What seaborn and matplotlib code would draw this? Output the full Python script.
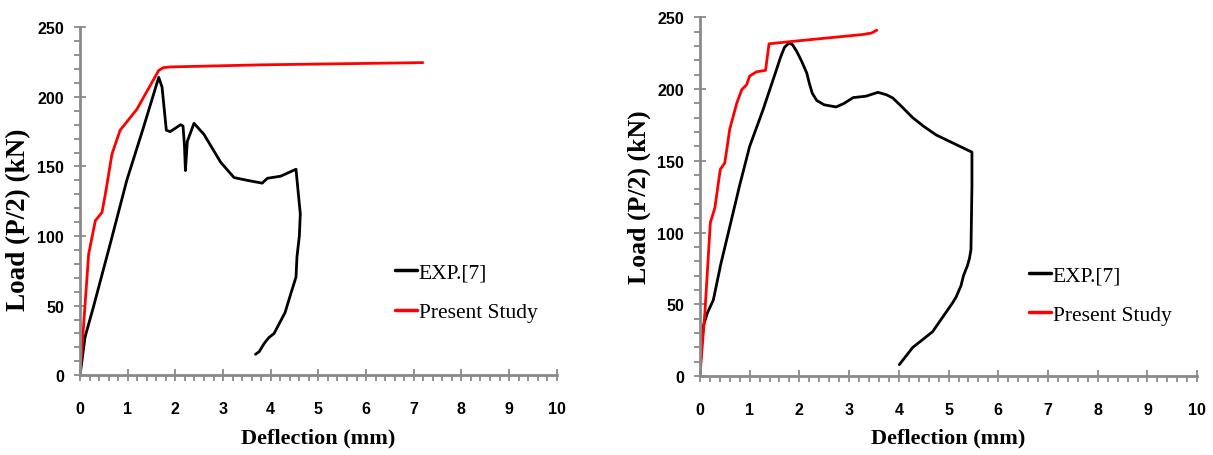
import numpy as np
import pandas as pd
import matplotlib
matplotlib.use("Agg")
import matplotlib.pyplot as plt
import seaborn as sns
from matplotlib.ticker import MultipleLocator

# ---- data: left panel ----
left_exp_x = [0, 0.105, 0.28, 0.63, 0.98, 1.33, 1.65, 1.72, 1.81, 1.89, 2.11, 2.16, 2.19, 2.21,
              2.25, 2.39, 2.6, 2.95, 3.23, 3.51, 3.82, 3.93, 4.21, 4.53, 4.58, 4.62, 4.6, 4.55,
              4.53, 4.42, 4.3, 4.07, 3.96, 3.86, 3.76, 3.68]
left_exp_y = [0, 27.5, 49, 94, 140, 178, 214, 207, 176, 175, 180, 179, 165, 147,
              168, 181, 173, 153, 142, 140, 138, 141.5, 143, 148, 130, 116, 100, 85,
              70.5, 58.5, 45, 30, 27, 22.7, 17, 15]
left_fem_x = [0, 0.18, 0.32, 0.46, 0.53, 0.67, 0.84, 1.19, 1.65, 1.75, 1.89, 3.79, 7.19]
left_fem_y = [0, 87, 111, 117, 130, 159, 176, 191, 219, 221, 221.5, 223, 224.6]

# ---- data: right panel ----
right_exp_x = [0, 0.03, 0.07, 0.15, 0.27, 0.42, 0.6, 0.8, 1.0, 1.27, 1.54, 1.62, 1.7, 1.79,
               1.86, 1.95, 2.05, 2.15, 2.2, 2.26, 2.35, 2.5, 2.74, 2.9, 3.08, 3.34, 3.58,
               3.75, 3.88, 4.05, 4.28, 4.5, 4.75, 5.05, 5.35, 5.47, 5.47, 5.45, 5.42, 5.38,
               5.3, 5.25, 5.15, 5.08, 4.9, 4.68, 4.5, 4.28, 4.1, 4.01]
right_exp_y = [0, 20, 35, 44, 53, 78, 104, 133, 160, 185.6, 213.5, 222, 229, 232,
               231, 226, 219, 211, 204, 197, 192, 189, 187.5, 190, 194, 195, 197.7,
               196, 193.7, 188, 180, 174, 168, 163, 158, 156, 132, 88, 82, 77,
               70, 63, 55, 51, 42, 31, 26, 20, 12, 8]
right_fem_x = [0, 0.1, 0.21, 0.3, 0.41, 0.5, 0.6, 0.74, 0.84, 0.94, 1.0, 1.14, 1.32, 1.39,
               1.81, 3.28, 3.45, 3.56]
right_fem_y = [0, 44, 107, 117, 144, 148.5, 172, 190, 199.5, 203, 209, 212, 213, 231.5,
               233, 238, 239, 241]

series_labels = ["EXP.[7]", "Present Study"]
x_ticks = list(range(0, 11))
y_ticks = [0, 50, 100, 150, 200, 250]

sns.set_theme(style="white")
plt.rcParams["font.family"] = ["DejaVu Sans"]
plt.rcParams["text.color"] = "black"
plt.rcParams["axes.labelcolor"] = "black"

fig = plt.figure(figsize=(12.13, 4.56), dpi=100)
ax1 = fig.add_axes([0.066, 0.175, 0.393, 0.763])
ax2 = fig.add_axes([0.577, 0.173, 0.410, 0.787])

panels = [
    (ax1, left_exp_x, left_exp_y, left_fem_x, left_fem_y, (0.62, 0.238), 19.5, (-0.128, 0.45)),
    (ax2, right_exp_x, right_exp_y, right_fem_x, right_fem_y, (0.623, 0.226), 18.5, (-0.121, 0.5)),
]

tick_font = {"family": ["Liberation Sans", "DejaVu Sans"], "weight": "bold", "size": 11.5}

for ax, ex, ey, fx, fy, lpos, ylab_size, ylab_pos in panels:
    df_e = pd.DataFrame({"x": ex, "y": ey})
    df_f = pd.DataFrame({"x": fx, "y": fy})
    sns.lineplot(data=df_e, x="x", y="y", ax=ax, sort=False, estimator=None,
                 color="black", linewidth=2.0, label=series_labels[0])
    sns.lineplot(data=df_f, x="x", y="y", ax=ax, sort=False, estimator=None,
                 color="#ff0000", linewidth=2.0, label=series_labels[1])
    ax.set_xlim(0, 10)
    ax.set_ylim(0, 250)
    ax.set_xticks(x_ticks)
    ax.set_yticks(y_ticks)
    ax.xaxis.set_minor_locator(MultipleLocator(0.2))
    ax.yaxis.set_minor_locator(MultipleLocator(10))
    for s in ["top", "right"]:
        ax.spines[s].set_visible(False)
    for s in ["left", "bottom"]:
        ax.spines[s].set_color("#8a8a8a")
        ax.spines[s].set_linewidth(2.0)
    ax.tick_params(which="major", direction="inout", length=9, width=1.3, color="#8a8a8a",
                   bottom=True, left=True, labelcolor="black")
    ax.tick_params(which="minor", direction="out", length=4, width=1.3, color="#8a8a8a",
                   bottom=True, left=True)
    ax.tick_params(axis="x", which="major", pad=14)
    ax.tick_params(axis="y", which="major", pad=7)
    ax.set_xticklabels([str(t) for t in x_ticks], fontdict=tick_font)
    ax.set_yticklabels([str(t) for t in y_ticks], fontdict=tick_font)
    ax.set_xlabel("Deflection (mm)", fontfamily="Liberation Serif", fontweight="bold",
                  fontsize=16, labelpad=8, color="black")
    ax.set_ylabel("Load (P/2) (kN)", fontfamily="Liberation Serif", fontweight="bold",
                  fontsize=ylab_size, color="black", va="center")
    ax.yaxis.set_label_coords(*ylab_pos)
    ax.grid(False)
    leg = ax.legend(loc="center left", bbox_to_anchor=lpos, frameon=False,
                    prop={"family": "Liberation Serif", "size": 15.5},
                    handlelength=1.0, handletextpad=0.1, labelspacing=0.9)
    for line in leg.get_lines():
        line.set_linewidth(2.5)

fig.savefig("out.png", dpi=100)
